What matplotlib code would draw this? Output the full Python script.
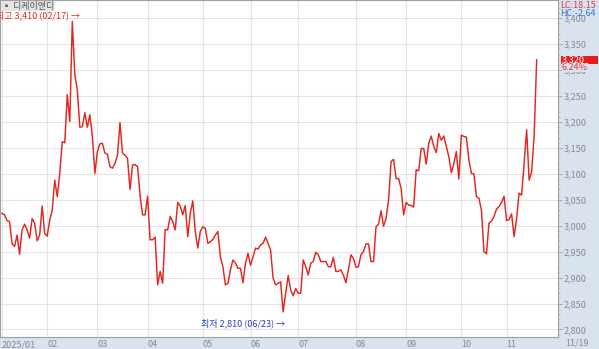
import matplotlib
matplotlib.use('Agg')
import matplotlib.pyplot as plt
from matplotlib.patches import Rectangle
from matplotlib.ticker import MultipleLocator, FuncFormatter

FONT = ['Liberation Sans Narrow', 'Noto Sans CJK KR', 'DejaVu Sans']
plt.rcParams['font.family'] = FONT

# ---- data (daily closes, trading-day order, 2025-01-02 .. 2025-11-19) ----
prices_jan = [3024, 3021, 3010, 3008, 2966, 2960, 2982, 2945, 2992, 3003,
              2992, 2976, 3014, 3005, 2971, 2982, 3038, 2985]
prices_feb = [2980, 3011, 3030, 3088, 3056, 3101, 3162, 3160, 3253, 3201,
              3394, 3291, 3262, 3190, 3191, 3218, 3190, 3214, 3172, 3101]
prices_mar = [3143, 3158, 3159, 3140, 3138, 3114, 3111, 3120, 3136, 3199,
              3140, 3136, 3130, 3070, 3117, 3118, 3114, 3059, 3021, 3021]
prices_apr = [3057, 2973, 2973, 2978, 2886, 2912, 2889, 2993, 2992, 3018,
              3008, 2992, 3045, 3038, 3021, 3039, 2979, 3024, 3048, 2989,
              2957, 2989]
prices_may = [2998, 2995, 2966, 2969, 2974, 2982, 2989, 2940, 2921, 2886,
              2889, 2915, 2934, 2928, 2918, 2918, 2890, 2928, 2947]
prices_jun = [2924, 2940, 2957, 2955, 2963, 2966, 2978, 2966, 2953, 2899,
              2886, 2889, 2892, 2834, 2870, 2904, 2876, 2865, 2879]
prices_jul = [2870, 2870, 2934, 2921, 2905, 2928, 2931, 2949, 2944, 2931,
              2931, 2931, 2921, 2921, 2939, 2912, 2912, 2915, 2905, 2890,
              2915, 2944, 2937]
prices_aug = [2920, 2921, 2944, 2950, 2965, 2965, 2931, 2931, 2998, 3003,
              3029, 2999, 3014, 3050, 3124, 3128, 3091, 3091, 3072, 3021]
prices_sep = [3045, 3040, 3039, 3036, 3108, 3106, 3149, 3149, 3119, 3159,
              3173, 3153, 3141, 3178, 3165, 3173, 3153, 3133, 3102, 3120,
              3143, 3090]
prices_oct = [3175, 3172, 3171, 3127, 3101, 3100, 3056, 3053, 3030, 2950,
              2946, 3005, 3009, 3018, 3032, 3037, 3045, 3057]
prices_nov = [3010, 3012, 3023, 2979, 3014, 3063, 3059, 3120, 3185, 3088,
              3104, 3175, 3320]

prices = (prices_jan + prices_feb + prices_mar + prices_apr + prices_may +
          prices_jun + prices_jul + prices_aug + prices_sep + prices_oct +
          prices_nov)

month_labels = ['2025/01', '02', '03', '04', '05', '06', '07', '08', '09', '10', '11']
month_lengths = [len(prices_jan), len(prices_feb), len(prices_mar), len(prices_apr),
                 len(prices_may), len(prices_jun), len(prices_jul), len(prices_aug),
                 len(prices_sep), len(prices_oct), len(prices_nov)]
y_ticks = list(range(2800, 3401, 50))

stock_name = '디케이앤디'
high_label = '최고 3,410 (02/17) →'
low_label = '최저 2,810 (06/23) →'
last_price_label = '3,320'
change_label = '6.24%'
lc_text = 'LC:18.15'
hc_text = 'HC:-2.64'
last_date = '11/19'

# ---- layout ----
W, H = 599, 349
fig = plt.figure(figsize=(W / 100, H / 100), dpi=100)
fig.patch.set_facecolor('white')
panel = '#d9e3f0'
gray_txt = '#8a8a8a'

def fx(px):
    return px / W

def fy(py):
    return 1 - py / H

fig.patches.append(Rectangle((fx(558), 0), 1 - fx(558), 1, transform=fig.transFigure,
                             facecolor=panel, edgecolor='none', zorder=-2))
fig.patches.append(Rectangle((0, 0), 1, 12 / H, transform=fig.transFigure,
                             facecolor=panel, edgecolor='none', zorder=-2))

ax = fig.add_axes([0.0, 12 / H, 558 / W, 337 / H])
ax.set_facecolor('white')

x = list(range(len(prices)))
ax.plot(x, prices, color='#e3261f', lw=1.05, zorder=3)

ax.set_xlim(-0.8, 221.5)
ax.set_ylim(2785.5, 3435.3)

month_starts = []
acc = 0
for n in month_lengths:
    month_starts.append(acc)
    acc += n

ax.set_xticks(month_starts)
ax.set_xticklabels(month_labels)
for lbl in ax.get_xticklabels():
    lbl.set_ha('left')
ax.tick_params(axis='x', length=0, pad=2.5, labelsize=6.5, labelcolor=gray_txt)

ax.yaxis.tick_right()
ax.set_yticks(y_ticks)
ax.yaxis.set_major_formatter(FuncFormatter(lambda v, p: f'{int(v):,}'))
ax.yaxis.set_minor_locator(MultipleLocator(10))
ax.tick_params(axis='y', which='major', direction='out', length=3, color='#9a9a9a',
               width=0.6, pad=1, labelsize=6.5, labelcolor=gray_txt)
ax.tick_params(axis='y', which='minor', direction='out', length=1.5, color='#b0b0b0',
               width=0.5)

ax.grid(True, color='#e4e4e4', lw=0.8, zorder=0)
for s in ['left', 'right', 'bottom', 'top']:
    ax.spines[s].set_color('#a0a0a0')
    ax.spines[s].set_linewidth(0.8)

# ---- annotations ----
fig.text(fx(2), fy(6), '▪ ' + stock_name, fontsize=6.5, color='#555555', va='center',
         ha='left', bbox=dict(facecolor='#e4e4e4', edgecolor='none', pad=0.6))
fig.text(fx(-4), fy(15), high_label, fontsize=6.5, color='#e02a22', va='center', ha='left')
fig.text(fx(285), fy(323), low_label, fontsize=6.5, color='#2a3cc8', va='center', ha='right')

fig.text(fx(560), fy(5), lc_text, fontsize=6.5, color='#e03a3a', va='center', ha='left')
fig.text(fx(560), fy(13), hc_text, fontsize=6.5, color='#3a78d0', va='center', ha='left')

fig.patches.append(Rectangle((fx(561), fy(63.5)), fx(598) - fx(561), (63.5 - 55.5) / H,
                             transform=fig.transFigure, facecolor='#e81e1e',
                             edgecolor='none', zorder=5))
fig.text(fx(562), fy(59.5), last_price_label, fontsize=6.5, color='white', va='center',
         ha='left', zorder=6)
fig.text(fx(562), fy(67.5), change_label, fontsize=6.5, color='#e03a3a', va='center',
         ha='left', zorder=6, bbox=dict(facecolor=panel, edgecolor='none', pad=0.2))

fig.text(fx(565), fy(343), last_date, fontsize=6.5, color=gray_txt, va='center', ha='left')

fig.savefig('out.png', dpi=100)
